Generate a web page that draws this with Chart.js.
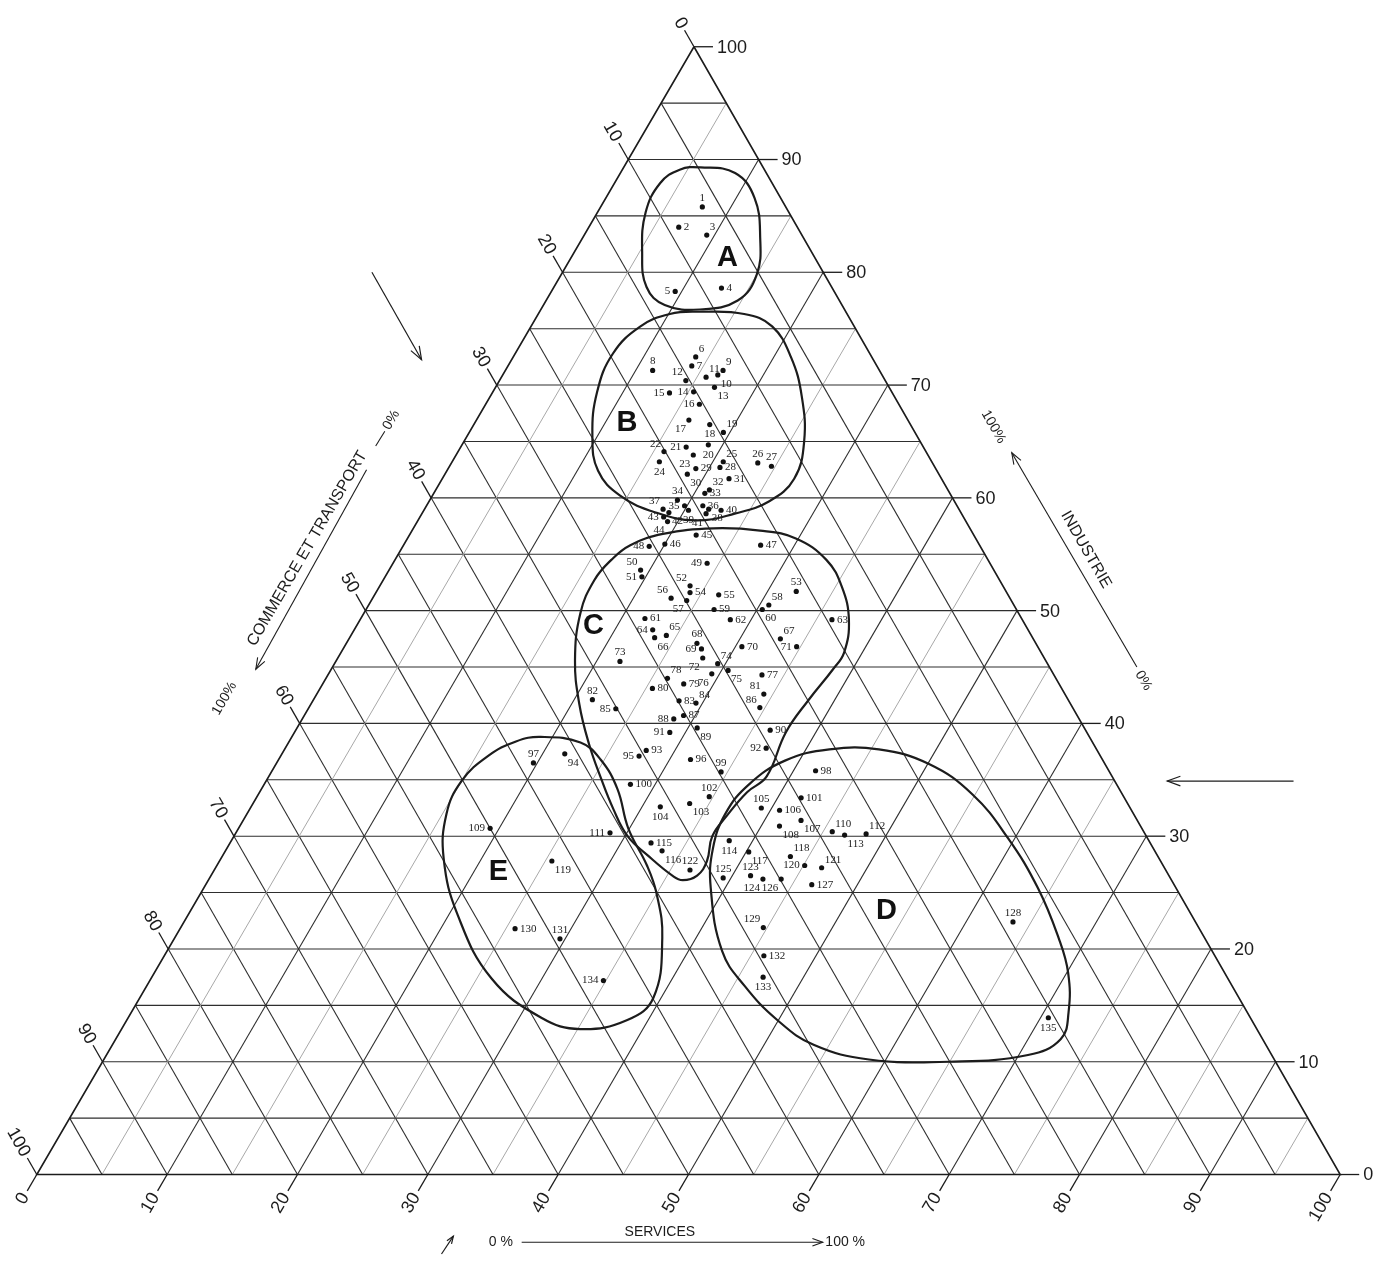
<!DOCTYPE html>
<html>
<head>
<meta charset="utf-8">
<title>Diagramme triangulaire</title>
<script src="https://cdn.jsdelivr.net/npm/chart.js@4.4.1/dist/chart.umd.min.js"></script>
<style>
html,body{margin:0;padding:0;background:#ffffff;overflow:hidden;}
canvas{display:block;}
</style>
</head>
<body>
<canvas id="chart" width="1379" height="1264"></canvas>
<script>
// ================= DATA =================
// Ternary values (percent). Commerce et transport = 100 - industrie - services.
const tickValues = [0,10,20,30,40,50,60,70,80,90,100];
const gridValues = [5,10,15,20,25,30,35,40,45,50,55,60,65,70,75,80,85,90,95];

const pointNumbers = [
  1,2,3,4,5,6,7,8,9,10,11,12,13,14,15,16,17,18,19,20,
  21,22,23,24,25,26,27,28,29,30,31,32,33,34,35,36,37,38,39,40,
  41,42,43,44,45,46,47,48,49,50,51,52,53,54,55,56,57,58,59,60,
  61,62,63,64,65,66,67,68,69,70,71,72,73,74,75,76,77,78,79,80,
  81,82,83,84,85,86,87,88,89,90,91,92,93,94,95,96,97,98,99,100,
  101,102,103,104,105,106,107,108,109,110,111,112,113,114,115,116,117,118,119,120,
  121,122,123,124,125,126,127,128,129,130,131,132,133,134,135];

const industrie = [
  85.8,84.0,83.3,78.6,78.3,72.5,71.7,71.3,71.3,70.9,70.7,70.4,69.8,69.4,69.3,68.3,66.9,66.5,65.8,64.7,
  64.5,64.1,63.8,63.2,63.2,63.1,62.8,62.7,62.6,62.1,61.7,60.7,60.4,59.8,59.3,59.3,59.0,59.0,58.9,58.9,
  58.6,58.7,58.3,57.9,56.7,55.9,55.8,55.7,54.2,53.6,53.0,52.2,51.7,51.6,51.4,51.1,50.9,50.5,50.1,50.1,
  49.3,49.2,49.2,48.3,47.8,47.6,47.5,47.1,46.6,46.8,46.8,45.8,45.5,45.3,44.7,44.4,44.3,44.0,43.5,43.1,
  42.6,42.1,42.0,41.8,41.3,41.4,40.7,40.4,39.6,39.4,39.2,37.8,37.6,37.3,37.1,36.8,36.5,35.8,35.7,34.6,
  33.4,33.5,32.9,32.6,32.5,32.3,31.4,30.9,30.7,30.4,30.3,30.2,30.1,29.6,29.4,28.7,28.6,28.2,27.8,27.4,
  27.2,27.0,26.5,26.2,26.3,26.2,25.7,22.4,21.9,21.8,20.9,19.4,17.5,17.2,13.9];

const services = [
  7.8,6.9,9.4,12.9,9.5,14.0,14.1,11.3,16.7,16.5,15.7,14.3,16.8,15.4,13.6,16.4,16.3,18.1,19.5,18.9,
  17.3,15.8,18.2,15.9,20.8,23.5,24.7,20.8,19.0,18.6,22.0,21.0,20.8,19.0,19.8,21.2,18.3,21.8,20.3,22.8,
  21.8,18.9,18.7,19.2,22.0,20.0,27.4,18.9,24.1,19.3,19.7,23.8,32.2,24.1,26.4,22.9,24.2,30.7,26.7,30.4,
  21.8,28.4,36.2,22.9,24.2,23.4,33.1,26.9,27.5,30.5,34.7,28.0,21.8,29.4,30.5,29.4,33.3,26.2,27.7,25.5,
  34.3,21.4,28.1,29.5,23.6,34.6,29.1,28.5,30.7,36.4,28.8,36.9,27.8,21.7,27.5,31.6,19.7,41.7,34.5,28.1,
  41.8,34.7,33.5,31.4,39.2,40.7,42.8,41.4,19.3,45.7,28.7,48.4,46.8,38.2,32.3,33.5,40.2,43.6,25.5,45.1,
  46.5,36.5,41.4,42.5,39.4,43.9,46.5,63.6,44.7,25.7,29.6,46.0,46.9,34.8,70.6];

// side of the number relative to its dot
const labelSide = [
  'n','e','ne','e','w','ne','e','n','ne','se','ne','nw','se','w','w','w','sw','s','ne','s',
  'w','nw','sw','s','ne','n','n','e','e','se','e','ne','e','n','w','e','nw','se','s','e',
  'sw','se','w','sw','e','e','e','w','w','nw','w','nw','n','e','e','nw','sw','ne','e','se',
  'e','e','e','w','ne','se','ne','n','w','e','w','sw','n','ne','se','sw','e','ne','e','e',
  'nw','n','e','ne','w','nw','e','w','se','e','w','w','e','se','w','e','n','e','n','e',
  'e','n','se','s','n','e','se','se','w','ne','w','ne','se','s','e','se','se','ne','se','w',
  'ne','n','n','sw','n','sw','e','n','nw','e','n','e','s','w','s'];

// Group outlines (industrie %, services %)
const regionNames = ['A','B','C','D','E'];
const regionA_ind = [89.3,88.8,86.6,83.1,79.8,77.5,76.7,77.1,78.7,81.8,85.3,87.9,89.1];
const regionA_ser = [5.9,8.8,11.4,13.6,15.0,14.7,12.2,9.3,7.1,5.2,3.7,3.5,4.4];
const regionB_ind = [76.5,76.3,75.2,72.5,69.0,65.0,61.7,59.7,58.6,58.0,58.7,60.2,62.4,65.5,69.4,72.8,75.2,76.3];
const regionB_ser = [12.3,15.8,18.5,21.3,23.9,26.1,27.0,26.1,24.0,21.3,17.9,14.4,11.6,9.6,8.0,7.5,8.4,10.1];
const regionC_ind = [49.8,52.7,54.5,55.8,56.8,57.3,57.1,56.4,54.5,52.1,49.2,46.3,44.8,42.1,39.2,35.3,33.9,31.8,30.0,27.8,26.5,26.1,26.5,28.3,30.0,32.4,35.1,38.2,41.7,45.6];
const regionC_ser = [16.6,16.2,16.6,17.4,19.4,23.0,26.7,29.8,33.1,35.5,37.5,38.6,38.5,38.0,37.7,38.2,37.4,36.9,36.7,37.4,37.3,36.4,35.4,32.6,30.2,27.9,25.6,23.1,20.6,18.3];
const regionD_ind = [25.4,28.9,32.0,34.6,36.7,37.7,37.7,36.4,33.7,29.8,25.4,21.0,17.9,14.4,12.0,10.6,10.0,10.2,11.5,13.7,16.7,19.8];
const regionD_ser = [38.9,37.3,36.7,37.2,38.9,41.8,45.6,50.1,54.8,59.5,64.0,67.8,70.1,71.9,72.5,70.7,64.9,58.7,53.8,49.9,45.9,42.6];
const regionE_ind = [38.8,38.3,36.8,34.2,30.7,27.4,24.9,21.0,15.7,13.7,12.9,13.9,17.4,23.0,28.0,32.0,34.9,37.1,38.4];
const regionE_ser = [19.1,22.4,24.7,27.3,29.9,33.0,35.0,37.4,39.4,38.4,35.2,31.7,26.1,20.7,17.1,15.3,15.0,15.9,17.4];
// where the big group letters sit (industrie %, services %)
const regionLetterInd = [81.3,66.6,48.6,23.4,26.8];
const regionLetterSer = [12.0,11.7,18.2,53.4,21.9];

// ================= GEOMETRY / STYLE =================
const SKEW = 0.5042;                 // apex horizontal position along the base
const X_MIN = -2.517, X_MAX = 102.67;
const Y_MIN = -7.58,  Y_MAX = 103.79;
const INK = '#1c1c1c';
const TICK_LEN = 19;
const TICK_FONT = '18px "Liberation Sans", Arial, sans-serif';
const NUM_FONT = '11px "Liberation Serif", "Times New Roman", serif';
const LETTER_FONT = 'bold 29px "Liberation Sans", Arial, sans-serif';
const TITLE_FONT = '16px "Liberation Sans", Arial, sans-serif';
const SMALL_FONT = '14px "Liberation Sans", Arial, sans-serif';

function tern(I, S) { return { x: S + SKEW * I, y: I }; }

const datasets = [];

// grid lines (5 % step in the three directions)
gridValues.forEach(v => {
  const light = (v % 10 !== 0);
  datasets.push({ data: [tern(v, 0), tern(v, 100 - v)], showLine: true, pointRadius: 0,
    borderColor: '#2e2e2e', borderWidth: 1.1, order: 4 });
  datasets.push({ data: [tern(0, v), tern(100 - v, v)], showLine: true, pointRadius: 0,
    borderColor: light ? '#a8a8a8' : '#2e2e2e', borderWidth: light ? 1 : 1.1, order: 4 });
  datasets.push({ data: [tern(100 - v, 0), tern(0, 100 - v)], showLine: true, pointRadius: 0,
    borderColor: '#2e2e2e', borderWidth: 1.1, order: 4 });
});

// triangle frame
datasets.push({ data: [tern(100, 0), tern(0, 0), tern(0, 100), tern(100, 0)], showLine: true,
  pointRadius: 0, borderColor: INK, borderWidth: 1.6, order: 3 });

// group outlines as closed smooth curves
function closedLoop(Is, Ss) {
  const pts = Is.map((I, k) => tern(I, Ss[k]));
  const n = pts.length;
  return { n, data: [pts[n - 1], ...pts, pts[0], pts[1]] };
}
[[regionA_ind, regionA_ser], [regionB_ind, regionB_ser], [regionC_ind, regionC_ser],
 [regionD_ind, regionD_ser], [regionE_ind, regionE_ser]].forEach(([Is, Ss]) => {
  const loop = closedLoop(Is, Ss);
  datasets.push({
    data: loop.data, showLine: true, pointRadius: 0, tension: 0.42,
    borderColor: INK, borderWidth: 2.2, order: 2,
    segment: { borderColor: c => (c.p0DataIndex === 0 || c.p0DataIndex === loop.n + 1) ? 'rgba(0,0,0,0)' : INK }
  });
});

// the 135 points
const pointData = industrie.map((I, k) => tern(I, services[k]));
const POINT_DS = datasets.length;
datasets.push({ data: pointData, showLine: false, pointRadius: 2.6, pointBackgroundColor: '#111',
  pointBorderWidth: 0, order: 0 });

const OFFS = {
  e: [5, 0, 'left'], w: [-5, 0, 'right'], n: [0, -9, 'center'], s: [0, 10, 'center'],
  ne: [3, -8, 'left'], nw: [-3, -8, 'right'], se: [3, 9, 'left'], sw: [-3, 9, 'right']
};

const decor = {
  id: 'decor',
  afterDatasetsDraw(chart) {
    const ctx = chart.ctx, xs = chart.scales.x, ys = chart.scales.y;
    const U = (x, y) => [xs.getPixelForValue(x), ys.getPixelForValue(y)];
    const P = (I, S) => { const q = tern(I, S); return U(q.x, q.y); };
    const apex = P(100, 0), bl = P(0, 0), br = P(0, 100);
    const unit = (a, b) => { const dx = b[0] - a[0], dy = b[1] - a[1], d = Math.hypot(dx, dy); return [dx / d, dy / d]; };
    const upLeft = unit(br, apex);
    const downLeft = unit(apex, bl);
    const angDownRight = Math.atan2(-upLeft[1], -upLeft[0]);
    const angUpRight = Math.atan2(-downLeft[1], -downLeft[0]);
    const seg = (a, b) => { ctx.beginPath(); ctx.moveTo(a[0], a[1]); ctx.lineTo(b[0], b[1]); ctx.stroke(); };
    const arrow = (a, b, head) => {
      seg(a, b);
      const ang = Math.atan2(b[1] - a[1], b[0] - a[0]);
      ctx.beginPath();
      ctx.moveTo(b[0] - head * Math.cos(ang - 0.35), b[1] - head * Math.sin(ang - 0.35));
      ctx.lineTo(b[0], b[1]);
      ctx.lineTo(b[0] - head * Math.cos(ang + 0.35), b[1] - head * Math.sin(ang + 0.35));
      ctx.stroke();
    };
    const rotText = (txt, p, ang, align) => {
      ctx.save(); ctx.translate(p[0], p[1]); ctx.rotate(ang); ctx.textAlign = align || 'center';
      ctx.fillText(txt, 0, 0); ctx.restore();
    };

    ctx.save();
    ctx.strokeStyle = INK; ctx.fillStyle = INK; ctx.lineWidth = 1.3;
    ctx.textBaseline = 'middle';

    // ---- axis ticks and labels ----
    ctx.font = TICK_FONT;
    tickValues.forEach(v => {
      // industrie (right side, horizontal)
      let e = P(v, 100 - v);
      seg(e, [e[0] + TICK_LEN, e[1]]);
      ctx.textAlign = 'left';
      ctx.fillText(String(v), e[0] + TICK_LEN + 4, e[1] + 1);
      // commerce et transport (left side)
      e = P(100 - v, 0);
      seg(e, [e[0] + upLeft[0] * TICK_LEN, e[1] + upLeft[1] * TICK_LEN]);
      rotText(String(v), [e[0] + upLeft[0] * (TICK_LEN + 3), e[1] + upLeft[1] * (TICK_LEN + 3)], angDownRight, 'right');
      // services (bottom)
      e = P(0, v);
      seg(e, [e[0] + downLeft[0] * TICK_LEN, e[1] + downLeft[1] * TICK_LEN]);
      rotText(String(v), [e[0] + downLeft[0] * (TICK_LEN + 4), e[1] + downLeft[1] * (TICK_LEN + 4)], angUpRight, 'right');
    });

    // ---- point numbers ----
    ctx.font = NUM_FONT;
    ctx.fillStyle = '#222';
    const meta = chart.getDatasetMeta(POINT_DS);
    meta.data.forEach((el, i) => {
      const o = OFFS[labelSide[i]] || OFFS.e;
      ctx.textAlign = o[2];
      ctx.fillText(String(pointNumbers[i]), el.x + o[0], el.y + o[1]);
    });

    // ---- group letters ----
    ctx.font = LETTER_FONT; ctx.fillStyle = '#111'; ctx.textAlign = 'center';
    regionNames.forEach((nm, k) => {
      const p = P(regionLetterInd[k], regionLetterSer[k]);
      ctx.fillText(nm, p[0], p[1]);
    });

    // ---- axis titles ----
    ctx.fillStyle = INK; ctx.lineWidth = 1.1;
    // left: commerce et transport
    ctx.font = TITLE_FONT;
    rotText('COMMERCE ET TRANSPORT', U(20.75, 55.51), angUpRight, 'center');
    ctx.font = SMALL_FONT;
    rotText('0%', U(27.2, 66.9), angUpRight, 'center');
    seg(U(26.0, 64.6), U(26.7, 65.9));
    arrow(U(25.3, 62.5), U(16.8, 44.8), 12);
    rotText('100%', U(14.4, 42.2), angUpRight, 'center');
    // right: industrie
    ctx.font = SMALL_FONT;
    rotText('100%', U(73.4, 66.3), angDownRight, 'center');
    arrow(U(84.4, 45.0), U(74.8, 64.0), 12);
    rotText('0%', U(84.9, 43.8), angDownRight, 'center');
    ctx.font = TITLE_FONT;
    rotText('INDUSTRIE', U(80.5, 55.4), angDownRight, 'center');
    // bottom: services
    ctx.font = SMALL_FONT; ctx.textAlign = 'center';
    let p = U(35.6, -6.0); ctx.fillText('0 %', p[0], p[1]);
    p = U(47.8, -5.1); ctx.fillText('SERVICES', p[0], p[1]);
    arrow(U(37.2, -6.0), U(60.3, -6.0), 11);
    ctx.textAlign = 'left';
    p = U(60.5, -6.0); ctx.fillText('100 %', p[0], p[1]);

    // ---- reading-direction arrows ----
    ctx.lineWidth = 1.2;
    arrow(U(25.71, 80.0), U(29.52, 72.25), 14);
    arrow(U(96.42, 34.89), U(86.73, 34.89), 14);
    arrow(U(31.05, -7.05), U(31.96, -5.46), 8);

    ctx.restore();
  }
};

new Chart(document.getElementById('chart'), {
  type: 'scatter',
  data: { datasets },
  options: {
    responsive: false, animation: false, devicePixelRatio: 1,
    layout: { padding: 0 },
    events: [],
    plugins: { legend: { display: false }, tooltip: { enabled: false } },
    scales: {
      x: { type: 'linear', min: X_MIN, max: X_MAX, display: false },
      y: { type: 'linear', min: Y_MIN, max: Y_MAX, display: false }
    }
  },
  plugins: [decor]
});
</script>
</body>
</html>
